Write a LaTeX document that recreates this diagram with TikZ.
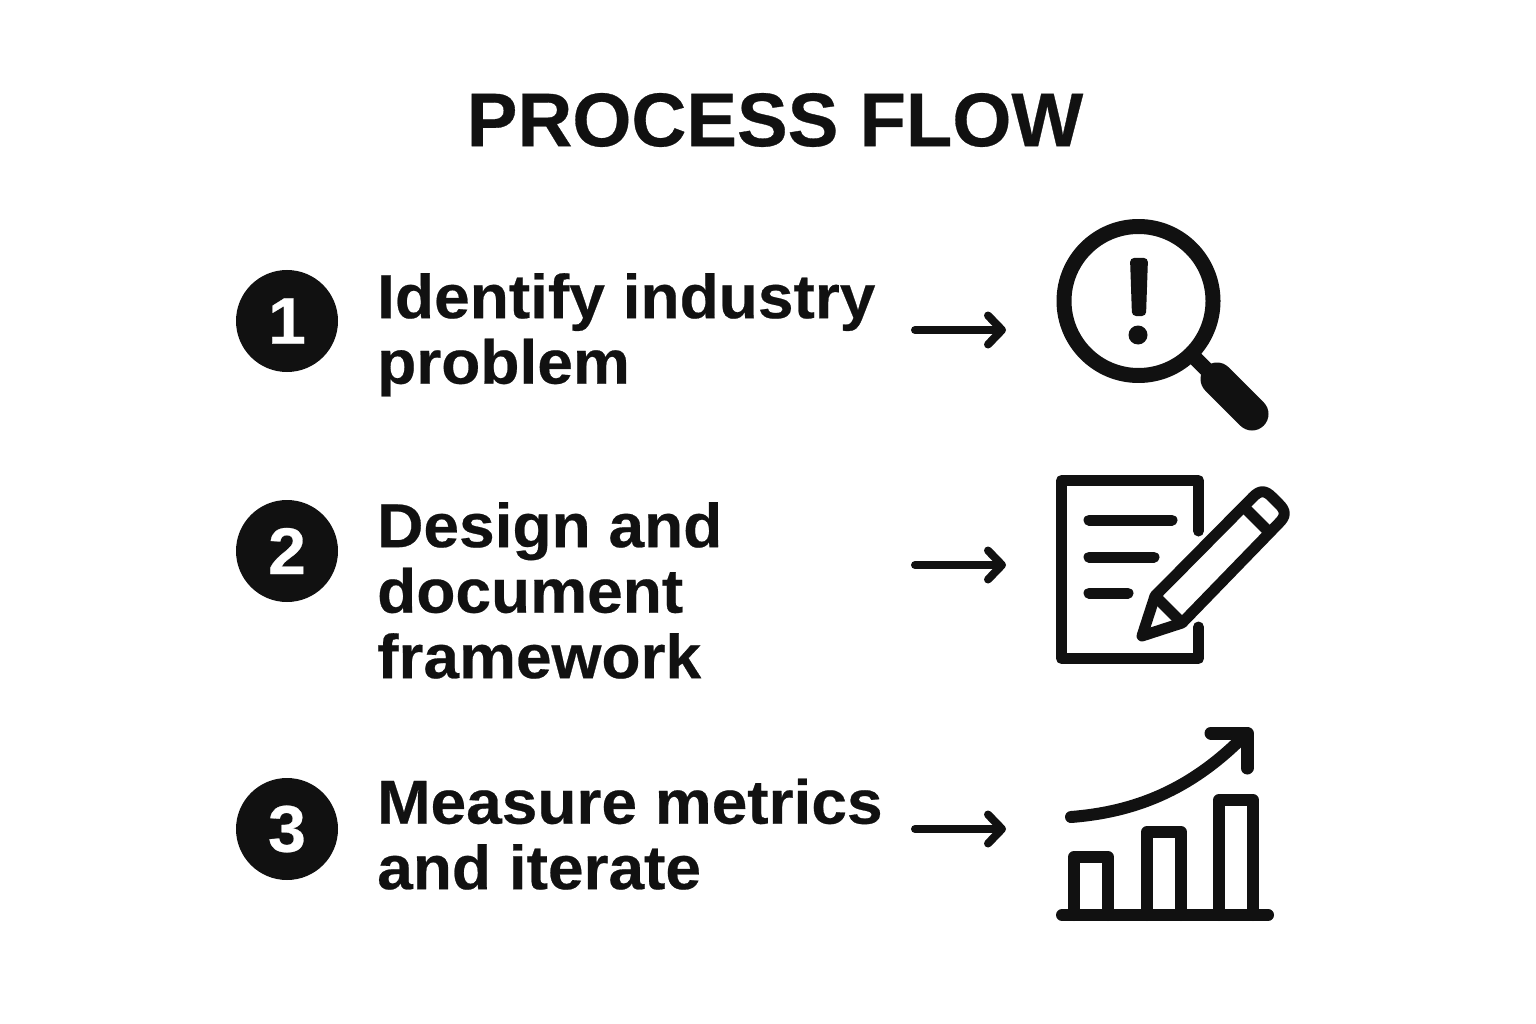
\documentclass[tikz,border=0pt]{standalone}
\usepackage{fontspec}
\setmainfont{Liberation Sans}
\newfontfamily\stepfont[FakeStretch=1.033,FakeBold=0.4]{Liberation Sans Bold}
\newfontfamily\titlefont[FakeBold=0.4]{Liberation Sans Bold}
\usetikzlibrary{arrows.meta}
\definecolor{inkblack}{HTML}{111111}
\tikzset{
  stepnum/.style={
    circle, fill=inkblack, text=white, minimum size=102pt, inner sep=0pt,
    font=\fontsize{66}{66}\stepfont
  },
  steptext/.style={
    anchor=north west, align=left, inner sep=0pt, text=inkblack,
    font=\fontsize{62}{65.5}\stepfont
  },
  flowarrow/.style={
    -{Straight Barb[length=14pt,width=29pt,line width=8pt,round]},
    line width=8pt, line cap=round, color=inkblack
  },
  icon/.style={draw=inkblack, line width=12pt, line cap=round, line join=round}
}
\begin{document}
\begin{tikzpicture}[x=1pt, y=-1pt]
    \useasboundingbox (0,0) rectangle (1536,1024);

    % Title
    \node[text=inkblack, font=\fontsize{76}{76}\titlefont] (title) at (775,120) {PROCESS FLOW};

    % Step blocks
    \node[stepnum] (num1) at (287,321) {1};
    \node[steptext] (text1) at (377,273) {Identify industry\\problem};

    \node[stepnum] (num2) at (287,551) {2};
    \node[steptext] (text2) at (377,502) {Design and\\document\\framework};

    \node[stepnum] (num3) at (287,829) {3};
    \node[steptext] (text3) at (377,778.5) {Measure metrics\\and iterate};

    % Flow arrows
    \coordinate (from1) at (915,330);
    \coordinate (to1) at (1006,330);
    \draw[flowarrow] (from1) -- (to1);

    \coordinate (from2) at (915,565);
    \coordinate (to2) at (1006,565);
    \draw[flowarrow] (from2) -- (to2);

    \coordinate (from3) at (915,829);
    \coordinate (to3) at (1006,829);
    \draw[flowarrow] (from3) -- (to3);

    % Magnifier
    \draw[icon, line width=15pt] (1138.5,301) circle (74.5);
    \fill[inkblack, rounded corners=4pt] (1130,258) -- (1148,258) -- (1146,316) -- (1132,316) -- cycle;
    \fill[inkblack] (1138,335) circle (9.5);
    \draw[icon, line width=15pt, line cap=butt] (1193,356) -- (1215,378);
    \draw[icon, line width=33pt] (1217,379) -- (1252,414);

    % Document
    \draw[icon, line width=11pt] (1198.5,531) -- (1198.5,480.5) -- (1061.5,480.5) -- (1061.5,658.5) -- (1198.5,658.5) -- (1198.5,627);
    \draw[icon, line width=11pt] (1089,520) -- (1172,520);
    \draw[icon, line width=11pt] (1089,557) -- (1154,557);
    \draw[icon, line width=11pt] (1089,593) -- (1128,593);

    % Pencil
    \draw[icon, line width=11pt] (1142,636) -- (1155,596) -- (1253,497)
      .. controls (1260,490) and (1265,490) .. (1272,497)
      -- (1279,504) .. controls (1286,511) and (1286,516) .. (1279,523)
      -- (1182,623) -- cycle;
    \draw[icon, line width=11pt, line cap=butt] (1155,596) -- (1182,623);
    \draw[icon, line width=11pt, line cap=butt] (1244,507) -- (1270,533);

    % Chart
    \draw[icon] (1062,915) -- (1268,915);
    \draw[icon] (1074,915) -- (1074,857) -- (1108,857) -- (1108,915);
    \draw[icon] (1147,915) -- (1147,832) -- (1181,832) -- (1181,915);
    \draw[icon] (1219,915) -- (1219,800) -- (1253,800) -- (1253,915);
    \draw[icon] (1071,817) .. controls (1135,812) and (1190,790) .. (1243,737);
    \draw[icon, line width=13pt] (1211,733) -- (1247,733) -- (1247,768);
\end{tikzpicture}
\end{document}
